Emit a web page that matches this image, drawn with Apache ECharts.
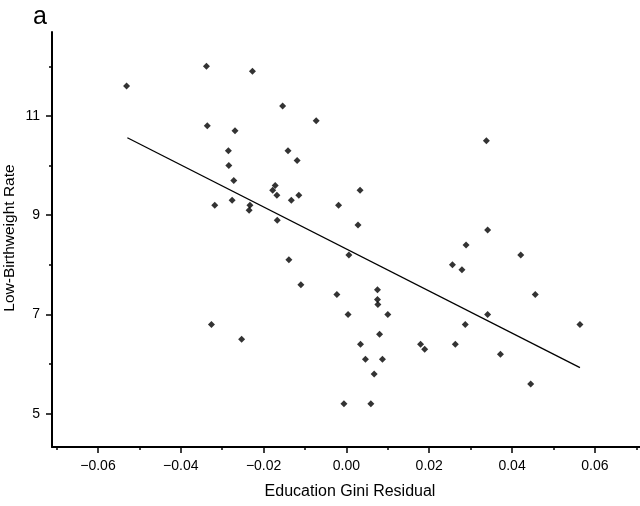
<!DOCTYPE html>
<html>
<head>
<meta charset="utf-8">
<script src="https://cdn.jsdelivr.net/npm/echarts@6/dist/echarts.min.js"></script>
<style>
  html, body { margin: 0; padding: 0; background: #fff; }
  #chart { width: 640px; height: 506px; }
</style>
</head>
<body>
<div id="chart"></div>
<script>
// education gini residual (x) and low-birthweight rate (y)
var giniResidual = [
  -0.0531, -0.0338, -0.0336, -0.0318, -0.0326, -0.0227, -0.0154, -0.0073, -0.0269, -0.0285,
  -0.0141, -0.0119, -0.0284, -0.0272, -0.0172, -0.0178, -0.0168, -0.0115, -0.0276, -0.0233,
  -0.0235, -0.0133, -0.0019, 0.0033, -0.0167, 0.0028, 0.0006, -0.0139, -0.0110, -0.0023,
  0.0075, 0.0075, 0.0076, 0.0004, 0.0100, -0.0253, 0.0080, 0.0034, 0.0046, 0.0087,
  0.0067, -0.0006, 0.0059, 0.0338, 0.0341, 0.0289, 0.0421, 0.0256, 0.0279, 0.0456,
  0.0341, 0.0287, 0.0564, 0.0179, 0.0189, 0.0263, 0.0372, 0.0445
];
var birthweightRate = [
  11.60, 12.00, 10.80, 9.20, 6.80, 11.90, 11.20, 10.90, 10.70, 10.30,
  10.30, 10.10, 10.00, 9.70, 9.60, 9.50, 9.40, 9.40, 9.30, 9.20,
  9.10, 9.30, 9.20, 9.50, 8.90, 8.80, 8.20, 8.10, 7.60, 7.40,
  7.50, 7.30, 7.20, 7.00, 7.00, 6.50, 6.60, 6.40, 6.10, 6.10,
  5.80, 5.20, 5.20, 10.50, 8.70, 8.40, 8.20, 8.00, 7.90, 7.40,
  7.00, 6.80, 6.80, 6.40, 6.30, 6.40, 6.20, 5.60
];
// fitted line end points
var fitX = [-0.0529, 0.0564];
var fitY = [10.56, 5.93];

var xMajor = [-0.06, -0.04, -0.02, 0, 0.02, 0.04, 0.06];
var xMinor = [-0.07, -0.05, -0.03, -0.01, 0.01, 0.03, 0.05, 0.07];
var yMajor = [5, 7, 9, 11];
var yMinor = [6, 8, 10, 12];

var pts = giniResidual.map(function (v, i) { return [v, birthweightRate[i]]; });
var fitLine = fitX.map(function (v, i) { return [v, fitY[i]]; });

var font = 'Liberation Sans, Arial, sans-serif';
var chart = echarts.init(document.getElementById('chart'));

var xBase = { type: 'value', min: -0.0711, max: 0.0709, splitLine: { show: false } };
var yBase = { type: 'value', min: 4.33, max: 12.69, splitLine: { show: false } };

var option = {
  animation: false,
  title: {
    text: 'a', left: 28, top: 0,
    textStyle: { fontFamily: font, fontSize: 25, fontWeight: 'normal', color: '#000' }
  },
  // y axis title drawn by hand, the axis name kept snapping to the edge
  graphic: [{
    type: 'text',
    x: 10, y: 238,
    rotation: Math.PI / 2,
    style: {
      text: 'Low-Birthweight Rate',
      font: '15.5px ' + font,
      fill: '#000',
      align: 'center',
      verticalAlign: 'middle'
    }
  }],
  grid: { left: 52, right: 0, top: 32, bottom: 59, containLabel: false, outerBoundsMode: 'none' },
  xAxis: [
    Object.assign({}, xBase, {
      name: 'Education Gini Residual',
      nameLocation: 'middle',
      nameGap: 37,
      nameTextStyle: { fontFamily: font, fontSize: 16, color: '#000', padding: [0, 0, 0, 8] },
      axisLine: { onZero: false, lineStyle: { color: '#000', width: 2 } },
      axisTick: { customValues: xMajor, length: 6, lineStyle: { color: '#000', width: 1.5 } },
      axisLabel: {
        customValues: xMajor, margin: 12, fontFamily: font, fontSize: 14, color: '#000',
        formatter: function (v) { return v.toFixed(2).replace('-', '\u2212'); }
      }
    }),
    Object.assign({}, xBase, {
      position: 'bottom',
      axisLine: { show: false, onZero: false },
      axisTick: { customValues: xMinor, length: 3, lineStyle: { color: '#000', width: 1.5 } },
      axisLabel: { show: false }
    })
  ],
  yAxis: [
    Object.assign({}, yBase, {
      axisLine: { onZero: false, lineStyle: { color: '#000', width: 2 } },
      axisTick: { customValues: yMajor, length: 6, lineStyle: { color: '#000', width: 1.5 } },
      axisLabel: { customValues: yMajor, margin: 12, fontFamily: font, fontSize: 14, color: '#000' }
    }),
    Object.assign({}, yBase, {
      position: 'left',
      axisLine: { show: false, onZero: false },
      axisTick: { customValues: yMinor, length: 3, lineStyle: { color: '#000', width: 1.5 } },
      axisLabel: { show: false }
    })
  ],
  series: [
    {
      type: 'scatter',
      symbol: 'diamond',
      symbolSize: 7,
      itemStyle: { color: '#000' },
      data: pts
    },
    {
      type: 'line',
      symbol: 'none',
      lineStyle: { color: '#000', width: 1.3 },
      data: fitLine
    }
  ]
};
chart.setOption(option);
</script>
</body>
</html>
